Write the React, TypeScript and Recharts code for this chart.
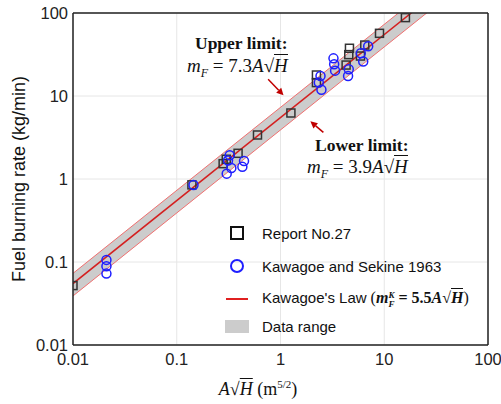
import React from "react";
import {
  ComposedChart,
  Area,
  Line,
  Scatter,
  XAxis,
  YAxis,
  CartesianGrid,
  ReferenceLine
} from "recharts";

// Report No.27 (squares)
const reportX = [0.01, 0.14, 0.28, 0.3, 0.39, 0.6, 1.26, 2.22, 2.22, 4.29, 4.55, 4.62, 5.9, 6.49, 9.0, 16.0];
const reportY = [0.052, 0.85, 1.53, 1.73, 2.04, 3.39, 6.24, 17.9, 14.5, 23.6, 31.5, 37.6, 30.3, 41.1, 56.9, 88];

// Kawagoe and Sekine 1963 (circles)
const kawagoeX = [0.021, 0.021, 0.021, 0.145, 0.303, 0.312, 0.324, 0.336, 0.429, 0.445, 2.34, 2.43, 2.48, 3.24, 3.29, 3.36, 4.48, 4.55, 5.94, 6.27, 7.0];
const kawagoeY = [0.106, 0.0887, 0.0725, 0.847, 1.16, 1.67, 1.93, 1.36, 1.4, 1.65, 14.5, 17.4, 11.9, 28.4, 24.1, 20.2, 17.4, 21.0, 32.7, 26.0, 39.7];

// law line and data range, at the two ends of the x axis
const lawX = [0.01, 100];
const lawY = [0.055, 550];
const upperY = [0.073, 730];
const lowerY = [0.039, 390];

const ticks = [0.01, 0.1, 1, 10, 100];

const reportData = reportX.map((x, i) => ({ x, y: reportY[i] }));
const kawagoeData = kawagoeX.map((x, i) => ({ x, y: kawagoeY[i] }));
const bandData = lawX.map((x, i) => ({
  x,
  law: lawY[i],
  upper: upperY[i],
  lower: lowerY[i],
  range: [lowerY[i], upperY[i]]
}));

const sans = "'Liberation Sans', Arial, sans-serif";
const serif = "'Liberation Serif', 'Times New Roman', serif";

const Square = (p: any) => (
  <rect x={p.cx - 4} y={p.cy - 4} width={8} height={8} fill="none" stroke="#333" strokeWidth={1.5} />
);
const Circle = (p: any) => (
  <circle cx={p.cx} cy={p.cy} r={4.5} fill="none" stroke="#1f1fff" strokeWidth={1.5} />
);

const Arrow = (p: any) => {
  const { x1, y1, x2, y2 } = p;
  const a = Math.atan2(y2 - y1, x2 - x1);
  const L = 7;
  const w = 3.5;
  const bx = x2 - L * Math.cos(a);
  const by = y2 - L * Math.sin(a);
  const pts = [
    [x2, y2],
    [bx + w * Math.sin(a), by - w * Math.cos(a)],
    [bx - w * Math.sin(a), by + w * Math.cos(a)]
  ]
    .map((q) => q.join(","))
    .join(" ");
  return (
    <g>
      <line x1={x1} y1={y1} x2={bx} y2={by} stroke="#c00000" strokeWidth={1.5} />
      <polygon points={pts} fill="#c00000" />
    </g>
  );
};

const Eq = ({ k }: { k: string }) => (
  <span style={{ fontFamily: serif, fontSize: 19, whiteSpace: "nowrap" }}>
    <i>m</i>
    <sub style={{ fontSize: 12 }}>
      <i>F</i>
    </sub>
    {" = " + k}
    <i>A</i>√<span style={{ borderTop: "1px solid #111", lineHeight: 1 }}><i>H</i></span>
  </span>
);

const legendItems = [
  { label: "Report No.27", kind: "square" },
  { label: "Kawagoe and Sekine 1963", kind: "circle" },
  { label: "Kawagoe's Law", kind: "line" },
  { label: "Data range", kind: "area" }
];

function LegendBox() {
  const rowY = [233, 266, 299, 326];
  return (
    <>
      {legendItems.map((it, i) => (
        <div
          key={it.label}
          style={{
            position: "absolute",
            left: 224,
            top: rowY[i] - 12,
            height: 24,
            display: "flex",
            alignItems: "center",
            fontFamily: sans,
            fontSize: 15,
            color: "#111",
            whiteSpace: "nowrap"
          }}
        >
          <div style={{ width: 26, height: 24, display: "flex", alignItems: "center", justifyContent: "center" }}>
            {it.kind === "square" && <div style={{ width: 10, height: 10, border: "2px solid #111" }} />}
            {it.kind === "circle" && (
              <div style={{ width: 10, height: 10, borderRadius: "50%", border: "2px solid #1f1fff" }} />
            )}
            {it.kind === "line" && <div style={{ width: 22, height: 2, background: "#e02020" }} />}
            {it.kind === "area" && <div style={{ width: 24, height: 13, background: "#cccccc" }} />}
          </div>
          <span style={{ marginLeft: 12 }}>
            {it.label}
            {it.kind === "line" && (
              <span style={{ fontFamily: serif, fontSize: 16 }}>
                {" ("}
                <b>
                  <i>m</i>
                  <span style={{ display: "inline-flex", flexDirection: "column", fontSize: 9, lineHeight: 1, verticalAlign: "middle" }}>
                    <i>K</i>
                    <i>F</i>
                  </span>
                  {" = 5.5"}
                  <i>A</i>√<span style={{ borderTop: "1px solid #111" }}><i>H</i></span>
                </b>
                {")"}
              </span>
            )}
          </span>
        </div>
      ))}
    </>
  );
}

export default function App() {
  return (
    <div style={{ position: "absolute", left: 0, top: 0, width: 501, height: 404, background: "#fff" }}>
      <ComposedChart width={501} height={404} margin={{ top: 13, right: 13, left: 13, bottom: 34 }}>
        <CartesianGrid stroke="#e6e6e6" strokeWidth={1} />
        <XAxis
          dataKey="x"
          type="number"
          scale="log"
          domain={[0.01, 100]}
          ticks={ticks}
          allowDataOverflow
          height={25}
          tickLine={false}
          tickSize={4}
          tickMargin={4}
          axisLine={{ stroke: "#222", strokeWidth: 1.5 }}
          tick={{ fontFamily: sans, fontSize: 16.5, fill: "#222" }}
        />
        <YAxis
          dataKey="y"
          type="number"
          scale="log"
          domain={[0.01, 100]}
          ticks={ticks}
          allowDataOverflow
          width={60}
          tickLine={false}
          tickSize={3}
          tickMargin={2}
          axisLine={{ stroke: "#222", strokeWidth: 1.5 }}
          tick={{ fontFamily: sans, fontSize: 16.5, fill: "#222" }}
        />
        <Area
          data={bandData}
          dataKey="range"
          type="linear"
          fill="#cccccc"
          fillOpacity={1}
          stroke="none"
          isAnimationActive={false}
        />
        <Line data={bandData} dataKey="upper" type="linear" stroke="#f07070" strokeWidth={1} dot={false} isAnimationActive={false} />
        <Line data={bandData} dataKey="lower" type="linear" stroke="#f07070" strokeWidth={1} dot={false} isAnimationActive={false} />
        <Line data={bandData} dataKey="law" type="linear" stroke="#d42020" strokeWidth={1.5} dot={false} isAnimationActive={false} />
        <Scatter data={reportData} dataKey="y" shape={Square} isAnimationActive={false} />
        <Scatter data={kawagoeData} dataKey="y" shape={Circle} isAnimationActive={false} />
        <ReferenceLine y={100} stroke="#222" strokeWidth={1.5} ifOverflow="visible" />
        <ReferenceLine x={100} stroke="#222" strokeWidth={1.5} ifOverflow="visible" />
        <ReferenceLine
          segment={[
            { x: 0.76, y: 15.9 },
            { x: 1.07, y: 10.2 }
          ]}
          shape={Arrow}
          ifOverflow="visible"
        />
        <ReferenceLine
          segment={[
            { x: 2.59, y: 3.65 },
            { x: 1.94, y: 4.96 }
          ]}
          shape={Arrow}
          ifOverflow="visible"
        />
      </ComposedChart>

      {/* annotations */}
      <div style={{ position: "absolute", left: 195, top: 33, fontFamily: serif, fontWeight: "bold", fontSize: 17.5, color: "#111" }}>
        Upper limit:
      </div>
      <div style={{ position: "absolute", left: 187, top: 55, color: "#111" }}>
        <Eq k="7.3" />
      </div>
      <div style={{ position: "absolute", left: 315, top: 135, fontFamily: serif, fontWeight: "bold", fontSize: 17.5, color: "#111" }}>
        Lower limit:
      </div>
      <div style={{ position: "absolute", left: 307, top: 156, color: "#111" }}>
        <Eq k="3.9" />
      </div>

      <LegendBox />

      {/* axis titles */}
      <div
        style={{
          position: "absolute",
          left: 19,
          top: 179,
          transform: "translate(-50%, -50%) rotate(-90deg)",
          fontFamily: sans,
          fontSize: 18,
          color: "#111",
          whiteSpace: "nowrap"
        }}
      >
        Fuel burning rate (kg/min)
      </div>
      <div
        style={{
          position: "absolute",
          left: 258,
          top: 389,
          transform: "translate(-50%, -50%)",
          fontFamily: serif,
          fontSize: 18,
          color: "#111",
          whiteSpace: "nowrap"
        }}
      >
        <i>A</i>√<span style={{ borderTop: "1px solid #111" }}><i>H</i></span>
        {" (m"}
        <sup style={{ fontSize: 11 }}>5/2</sup>
        {")"}
      </div>
    </div>
  );
}
